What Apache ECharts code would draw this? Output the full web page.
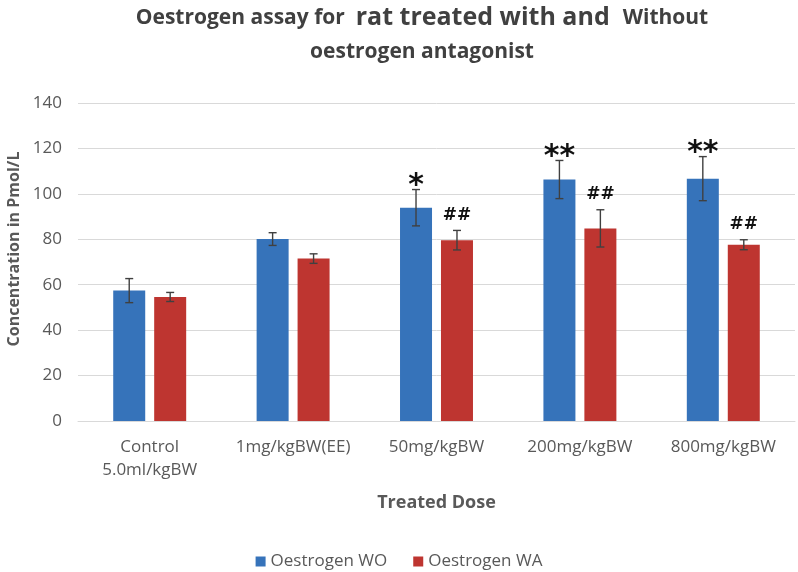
<!DOCTYPE html>
<html>
<head>
<meta charset="utf-8">
<script src="https://cdn.jsdelivr.net/npm/echarts@6/dist/echarts.min.js"></script>
<style>html,body{margin:0;padding:0;background:#fff;}#c{width:798px;height:572px;}</style>
</head>
<body>
<div id="c"></div>
<script>
var categories = ['Control\n5.0ml/kgBW', '1mg/kgBW(EE)', '50mg/kgBW', '200mg/kgBW', '800mg/kgBW'];
var woMean = [57.4, 80.1, 93.9, 106.3, 106.7];
var woErr  = [5.3, 2.8, 8.0, 8.4, 9.7];
var waMean = [54.6, 71.5, 79.6, 84.8, 77.6];
var waErr  = [2.0, 2.1, 4.3, 8.2, 2.2];
var woMark = ['', '', '*', '**', '**'];
var waMark = ['', '', '##', '##', '##'];
var yTicks = [0, 20, 40, 60, 80, 100, 120, 140];

var FONT = '"Open Sans", "Noto Sans", sans-serif';
var BLUE = '#3673BA';
var RED = '#BE3530';
var BAR_W = 32, BAR_GAP = 0.28;
var OFFSET = BAR_W * (1 + BAR_GAP) / 2;

function errSeries(means, errs, marks, side) {
  var data = means.map(function (m, i) { return [i, m, errs[i]]; });
  return {
    type: 'custom',
    z: 10,
    silent: true,
    data: data,
    encode: { x: 0, y: 1 },
    renderItem: function (params, api) {
      var i = api.value(0), m = api.value(1), e = api.value(2);
      var mark = marks[i];
      var x = api.coord([i, 0])[0] + side * OFFSET;
      var yTop = api.coord([i, m + e])[1];
      var yBot = api.coord([i, m - e])[1];
      var st = { stroke: '#404040', lineWidth: 1.4 };
      var children = [
        { type: 'line', shape: { x1: x, y1: yTop, x2: x, y2: yBot }, style: st },
        { type: 'line', shape: { x1: x - 4, y1: yTop, x2: x + 4, y2: yTop }, style: st },
        { type: 'line', shape: { x1: x - 4, y1: yBot, x2: x + 4, y2: yBot }, style: st }
      ];
      if (mark) {
        var isStar = mark.indexOf('*') >= 0;
        children.push({
          type: 'text',
          style: {
            text: mark,
            x: x,
            y: isStar ? yTop - 3 : yTop - 15,
            textAlign: 'center',
            textVerticalAlign: 'middle',
            font: isStar ? 'bold 30px "DejaVu Sans", sans-serif' : 'bold 17px "DejaVu Sans", sans-serif',
            fill: '#111'
          }
        });
      }
      return { type: 'group', children: children };
    }
  };
}

var chart = echarts.init(document.getElementById('c'), null, { renderer: 'canvas' });
chart.setOption({
  backgroundColor: '#ffffff',
  animation: false,
  title: {
    text: '{a|Oestrogen assay for  }{b|rat treated with and  }{a|Without}\n{a|oestrogen antagonist}',
    left: 417,
    textAlign: 'center',
    top: -4,
    textStyle: {
      fontFamily: FONT,
      fontWeight: 'bold',
      color: '#404040',
      lineHeight: 34,
      rich: {
        a: { fontFamily: FONT, fontWeight: 'bold', fontSize: 21, color: '#404040', lineHeight: 34 },
        b: { fontFamily: FONT, fontWeight: 'bold', fontSize: 25, color: '#404040', lineHeight: 34 }
      }
    }
  },
  legend: {
    data: ['Oestrogen WO', 'Oestrogen WA'],
    left: 'center',
    top: 548,
    icon: 'rect',
    itemWidth: 10,
    itemHeight: 10,
    itemGap: 26,
    textStyle: { fontFamily: FONT, fontSize: 17, color: '#595959' }
  },
  grid: { left: 78, right: 3, top: 103, bottom: 151, containLabel: false, outerBoundsMode: 'none' },
  xAxis: {
    type: 'category',
    data: categories,
    name: 'Treated Dose',
    nameLocation: 'middle',
    nameGap: 73,
    nameTextStyle: { fontFamily: FONT, fontSize: 18, fontWeight: 'bold', color: '#595959' },
    axisLine: { lineStyle: { color: '#d9d9d9', width: 1 } },
    axisTick: { show: false },
    axisLabel: { interval: 0, hideOverlap: false, fontFamily: FONT, fontSize: 17, color: '#595959', margin: 15, lineHeight: 23 }
  },
  yAxis: {
    type: 'value',
    min: yTicks[0],
    max: yTicks[yTicks.length - 1],
    interval: yTicks[1] - yTicks[0],
    name: 'Concentration in Pmol/L',
    nameLocation: 'middle',
    nameGap: 56,
    nameRotate: 90,
    nameTextStyle: { fontFamily: FONT, fontSize: 16, fontWeight: 'bold', color: '#595959', padding: [0, 0, 0, 26] },
    axisLine: { show: false },
    axisTick: { show: false },
    axisLabel: { fontFamily: FONT, fontSize: 17, color: '#595959', margin: 16 },
    splitLine: { lineStyle: { color: '#d9d9d9', width: 1 } }
  },
  series: [
    { name: 'Oestrogen WO', type: 'bar', data: woMean, barWidth: BAR_W, barGap: (BAR_GAP * 100) + '%', itemStyle: { color: BLUE } },
    { name: 'Oestrogen WA', type: 'bar', data: waMean, barWidth: BAR_W, barGap: (BAR_GAP * 100) + '%', itemStyle: { color: RED } },
    errSeries(woMean, woErr, woMark, -1),
    errSeries(waMean, waErr, waMark, 1)
  ]
});
</script>
</body>
</html>
